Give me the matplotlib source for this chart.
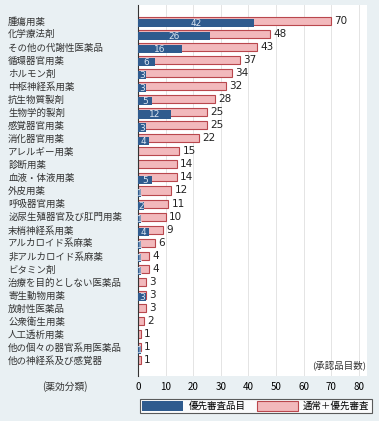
import matplotlib.pyplot as plt
import numpy as np

plt.rcParams['font.family'] = ['Noto Sans CJK JP', 'DejaVu Sans']

categories = ['腫瘍用薬', '化学療法剤', 'その他の代謝性医薬品', '循環器官用薬', 'ホルモン剤',
              '中枢神経系用薬', '抗生物質製剤', '生物学的製剤', '感覚器官用薬', '消化器官用薬',
              'アレルギー用薬', '診断用薬', '血液・体液用薬', '外皮用薬', '呼吸器官用薬',
              '泌尿生殖器官及び肛門用薬', '末梢神経系用薬', 'アルカロイド系麻薬', '非アルカロイド系麻薬',
              'ビタミン剤', '治療を目的としない医薬品', '寄生動物用薬', '放射性医薬品', '公衆衛生用薬',
              '人工透析用薬', '他の個々の器官系用医薬品', '他の神経系及び感覚器']
total = [70, 48, 43, 37, 34, 32, 28, 25, 25, 22, 15, 14, 14, 12, 11, 10, 9, 6, 4, 4, 3, 3, 3, 2, 1, 1, 1]
priority = [42, 26, 16, 6, 3, 3, 5, 12, 3, 4, 0, 0, 5, 1, 2, 1, 4, 1, 1, 1, 0, 3, 0, 0, 0, 1, 0]

blue = '#2f5b8e'
pink = '#f2b9bc'
pink_edge = '#b9474d'

fig = plt.figure(figsize=(3.79, 4.21), dpi=100, facecolor='#e9f0f3')
ax = fig.add_axes([138 / 379, 1 - 376 / 421, 229 / 379, 371 / 421])
ax.set_facecolor('white')

y = np.arange(len(categories))
ax.barh(y, total, height=0.62, color=pink, edgecolor=pink_edge, linewidth=0.8, zorder=2,
        label='通常＋優先審査')
ax.barh(y + 0.18, priority, height=0.62, color=blue, zorder=3, label='優先審査品目')

for yi, t, p in zip(y, total, priority):
    ax.text(t + 1.2, yi, str(t), va='center', ha='left', fontsize=7.5,
            family='DejaVu Sans', color='#222222', zorder=4)
    if p > 0:
        ax.text(p / 2, yi + 0.22, str(p), va='center', ha='center', fontsize=6.5,
                family='DejaVu Sans', color='#dce6f2', zorder=4)

ax.set_xlim(0, 83)
ax.set_ylim(len(categories) - 1 + 1.2, -1.2)
ax.set_xticks(range(0, 81, 10))
ax.tick_params(axis='x', length=0, labelsize=7, pad=4)
ax.grid(axis='x', color='#e4e4e4', linewidth=0.7, zorder=0)
ax.set_yticks(y)
ax.set_yticklabels(categories, fontsize=6.8, color='#333333')
ax.tick_params(axis='y', length=0, pad=93.5)
for lbl in ax.get_yticklabels():
    lbl.set_ha('left')
for s in ['top', 'right', 'bottom']:
    ax.spines[s].set_visible(False)
ax.spines['left'].set_color('#333333')
ax.spines['left'].set_linewidth(0.8)

ax.text(0.995, 0.03, '(承認品目数)', transform=ax.transAxes, ha='right', va='center',
        fontsize=6.8, color='#333333')
fig.text(65 / 379, 1 - 387 / 421, '(薬効分類)', ha='center', va='center', fontsize=7,
         color='#333333')

handles, labels = ax.get_legend_handles_labels()
leg = fig.legend(handles[::-1], labels[::-1], loc='center', ncol=2,
                 bbox_to_anchor=(256 / 379, 1 - 406 / 421), fontsize=6.8,
                 frameon=True, fancybox=False, edgecolor='#333333', facecolor='white',
                 handlelength=4.3, handleheight=1.2, columnspacing=1.2,
                 borderpad=0.25, handletextpad=0.6)
leg.get_frame().set_linewidth(0.8)

fig.savefig('out.png', dpi=100, facecolor=fig.get_facecolor())
